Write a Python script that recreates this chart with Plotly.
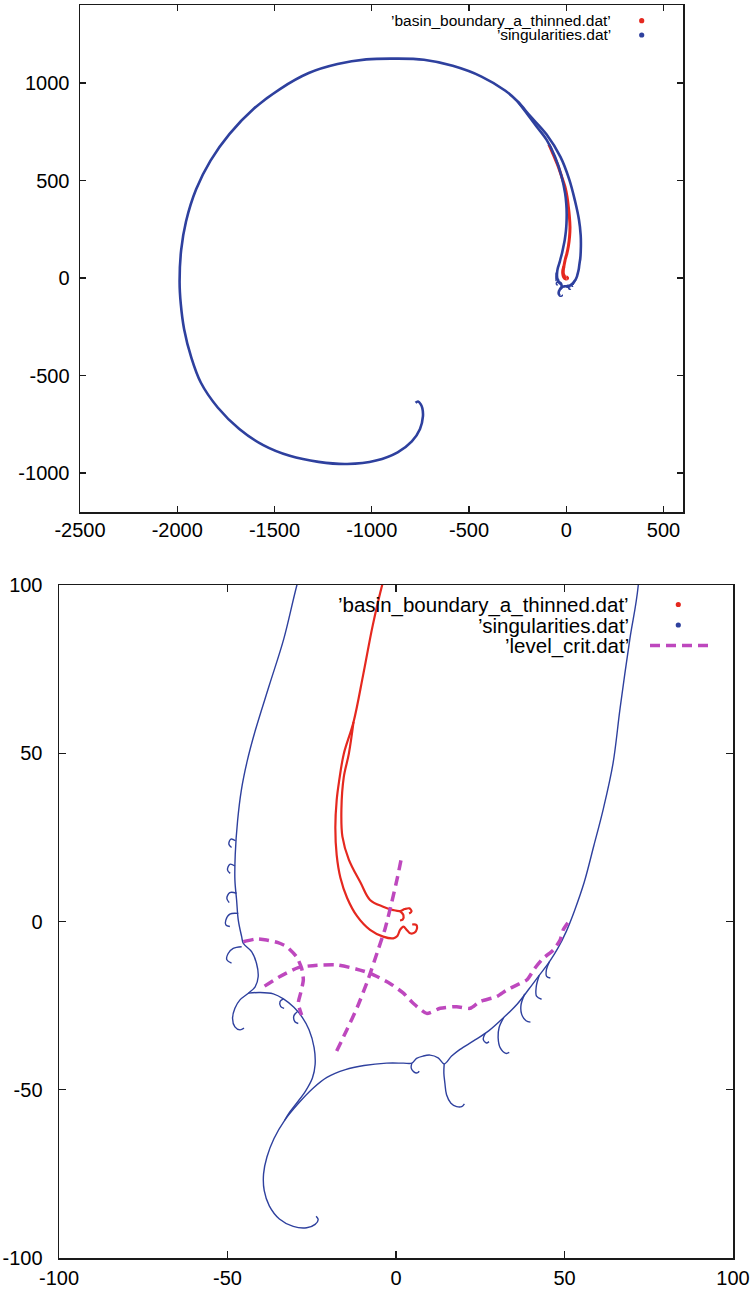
import plotly.graph_objects as go

# ---------------- data: 'singularities.dat' (blue) ----------------
# main path: inner end of the big spiral -> around -> right strand -> lower boundary -> small spiral
sing_main_x = [-775, -762, -748, -740, -737, -752, -794, -867, -978, -1126, -1274, -1422, -1558, -1681,
               -1792, -1879, -1928, -1965, -1982, -1988, -1980, -1955, -1903, -1829, -1731, -1607, -1472,
               -1324, -1176, -1028, -880, -732, -584, -436, -313, -250, -185, -102, -30, 15, 45, 65, 74, 75,
               71.9, 69.4, 66.5, 64.4, 61.5, 58.7, 55.8, 53, 50.5, 48, 45.5, 42.5, 39.5, 36, 32, 27.5, 23,
               19, 16.5, 14.3, 12.5, 10.1, 8, 6.1, 4.7, 2.2, -2.8, -9.5, -15, -20.5, -24.7, -29.2, -33,
               -36.2, -38.3, -39.3, -39.1, -37.6, -34.6, -30.5, -26.5, -24, -23.1, -23.7]
sing_main_y = [-640, -633, -648, -668, -710, -774, -838, -894, -936, -954, -943, -912, -857, -774,
               -664, -536, -407, -261, -132, -22, 143, 290, 455, 602, 739, 868, 969,
               1051, 1097, 1121, 1125, 1119, 1088, 1033, 960, 905, 830, 737, 621, 506, 395, 300, 220, 160,
               100, 84, 63.4, 47, 33.4, 22.5, 11.5, 3.3, -3, -8, -12, -16, -20, -24.5, -28.5, -32.5, -35.5,
               -38, -40, -42.3, -40.5, -39.7, -40, -40.7, -42.1, -42.1, -42.1, -42.8, -44, -46.3, -49.6, -54.3, -59,
               -64.5, -70, -75, -80, -84.5, -88.4, -90.6, -91, -90, -88.6, -87.6]

# inner strand and left strand down to the hook at (-46,-32)
sing_inner_x = [-250, -200, -152, -101, -58, -24, -6, 0, 2, 1, -2, -8, -15, -22, -29.4, -33.3, -37.6,
                -41.8, -44.2, -45.9, -47, -47.7, -47.8, -47.3, -46.8, -45.8, -45.3, -42.8, -41.4, -40.9,
                -41.8, -43.8, -46.3, -47.8, -48.5, -47.8, -46.3, -45.1]
sing_inner_y = [905, 840, 776, 708, 622, 520, 434, 380, 330, 280, 240, 195, 160, 127, 100, 84, 70.2,
                56.6, 47.5, 39, 30, 20, 12.3, 6.4, 0.4, -4.5, -6.5, -9, -12.4, -16.4,
                -19.4, -21.3, -23.3, -25.8, -28.8, -31.3, -32.2, -31.7]

# arch joining the left strand to the lower boundary
sing_arch_x = [-43.8, -40.4, -36.4, -33.4, -30.3, -27.8, -25.8, -24.3, -24, -24.8, -26.8, -29.5, -31.8, -33]
sing_arch_y = [-21.3, -21.1, -21.5, -23, -25.5, -28.5, -32.2, -37.5, -42.5, -46.5, -50.3, -54, -57, -59]

# hooks / curls hanging off the curve
sing_hook15_x = [14.3, 14.2, 14.5, 15, 16.3, 18, 19.5, 20.3]
sing_hook15_y = [-42.3, -45, -48, -51.5, -54, -55, -55, -54.2]
sing_hook5_x = [4.7, 4.5, 5.2, 6.3, 6.9]
sing_hook5_y = [-42.1, -43.5, -44.6, -45, -44.5]
sing_hookr1_x = [45.5, 44.6, 44.7, 45.8]
sing_hookr1_y = [-12, -14.5, -16.3, -16.8]
sing_hookr2_x = [42.5, 41.6, 41.7, 43.2]
sing_hookr2_y = [-16, -19.5, -22.2, -23.1]
sing_hookr3_x = [38.2, 37.1, 37.3, 38.6, 39.9]
sing_hookr3_y = [-21.5, -24.8, -27.6, -29.5, -29.9]
sing_hookr4_x = [32, 30.6, 30.3, 30.9, 32.6, 33.6]
sing_hookr4_y = [-28.5, -31.5, -34.5, -37.5, -39.2, -38.9]
sing_hookr5_x = [26.5, 25.9, 26.8, 27.6]
sing_hookr5_y = [-33.2, -35, -36.1, -35.7]
sing_curl22_x = [-47.6, -49, -49.6, -48.8]
sing_curl22_y = [24, 24.5, 23, 22]
sing_curl15_x = [-47.8, -49.3, -50, -49.2]
sing_curl15_y = [16.5, 17, 15.3, 14.3]
sing_curl8_x = [-47.3, -49.3, -50.2, -49.5]
sing_curl8_y = [8.4, 8.6, 6.9, 5.6]
sing_curl1_x = [-46.8, -49.3, -50.5, -50.5, -49.3]
sing_curl1_y = [2.4, 2.2, 0.4, -1.0, -1.5]
sing_curlm9_x = [-45.8, -48.3, -49.8, -50.2, -48.8]
sing_curlm9_y = [-7.5, -8, -9.5, -11.4, -12.4]
sing_curla1_x = [-33.4, -34.4, -34.2, -33.2]
sing_curla1_y = [-23, -23.8, -25.3, -25.8]
sing_curla2_x = [-29.3, -30.3, -30, -29]
sing_curla2_y = [-26.8, -28, -29.8, -30.3]

# ---------------- data: 'basin_boundary_a_thinned.dat' (red) ----------------
basin_outer_x = [-90, -84, -62, -41, -24, -7, 4, 10.5, 16, 19, 17, 10.5, 3, -4.1, -6.9, -9.8, -12.6,
                 -15.5, -16.9, -17.6, -18, -17.6, -16.5, -14.5, -11.5, -7.7, -3.8, -0.8, 0.4, 1.2, 2.2,
                 3.2, 4.2, 5.5, 6.2, 6, 4.8]
basin_outer_y = [685, 673, 622, 571, 520, 468, 415, 366, 315, 263, 215, 161, 125, 100, 88, 73, 59.3,
                 49.8, 41.6, 36.1, 27.9, 19.7, 13, 7, 1.5, -2.5, -4.5, -5, -4.3, -2.5, -1.5,
                 -2.5, -3.5, -3.3, -2.2, -1, -0.9]
basin_inner_x = [-12.6, -14, -15.5, -16.2, -15.9, -14, -10.5, -7.7, -3.8, -0.8, 1.2, 2.6, 4.0, 4.6, 3.9]
basin_inner_y = [59.3, 49.8, 42.9, 33.4, 25.2, 18.4, 11.5, 6.4, 4.4, 3.4, 3.1, 3.7, 3.9, 3.0, 2.4]
basin_curl_x = [1.2, 2.2, 2.0, 1.2]
basin_curl_y = [3.1, 1.9, 0.6, 0.3]

# ---------------- data: 'level_crit.dat' (magenta dashed) ----------------
level_a_x = [-39, -34.7, -29, -23.3, -17.6, -11.9, -7.7, -1.8, 2.2, 5.1, 9.1, 13.1, 18, 22, 24.9,
             29.9, 32.8, 35.8, 38.8, 41.2, 43.7, 46.7, 48.7, 49.6, 51.6]
level_a_y = [-19.2, -16.5, -13.7, -13, -12.9, -14.1, -15.4, -18.4, -21.3, -24.3, -27.3, -25.8, -25.3,
             -25.8, -23.8, -22.3, -20.4, -18.9, -17.4, -13.9, -10.9, -8.5, -5.5, -2.5, 0.4]
level_b_x = [-45.3, -41.5, -38.4, -35, -32.4, -29.5, -28, -27.5, -28.3, -29, -28]
level_b_y = [-6, -5.2, -5.5, -6.3, -7.5, -10.5, -13.9, -17.4, -21.3, -24.3, -27.8]
level_c_x = [-17.6, -14.5, -11.5, -8.2, -5.5, -3.2, -1.2, 0.3, 1.6]
level_c_y = [-38.5, -32, -25.5, -17, -9, -2, 6, 12.5, 18.8]

# ---------------- tick labels ----------------
top_xticks = [-2500, -2000, -1500, -1000, -500, 0, 500]
top_yticks = [-1000, -500, 0, 500, 1000]
bot_ticks = [-100, -50, 0, 50, 100]

legend_names = ["\u2019basin_boundary_a_thinned.dat\u2019", "\u2019singularities.dat\u2019",
                "\u2019level_crit.dat\u2019"]


def join(*segs):
    xs, ys = [], []
    for sx, sy in segs:
        if xs:
            xs.append(None)
            ys.append(None)
        xs.extend(sx)
        ys.extend(sy)
    return xs, ys


blue_x, blue_y = join((sing_main_x, sing_main_y), (sing_inner_x, sing_inner_y),
                      (sing_arch_x, sing_arch_y), (sing_hook15_x, sing_hook15_y),
                      (sing_hook5_x, sing_hook5_y), (sing_hookr1_x, sing_hookr1_y),
                      (sing_hookr2_x, sing_hookr2_y), (sing_hookr3_x, sing_hookr3_y),
                      (sing_hookr4_x, sing_hookr4_y), (sing_hookr5_x, sing_hookr5_y),
                      (sing_curl22_x, sing_curl22_y), (sing_curl15_x, sing_curl15_y),
                      (sing_curl8_x, sing_curl8_y), (sing_curl1_x, sing_curl1_y),
                      (sing_curlm9_x, sing_curlm9_y), (sing_curla1_x, sing_curla1_y),
                      (sing_curla2_x, sing_curla2_y))
red_x, red_y = join((basin_outer_x, basin_outer_y), (basin_inner_x, basin_inner_y),
                    (basin_curl_x, basin_curl_y))
mag_x, mag_y = join((level_a_x, level_a_y), (level_b_x, level_b_y), (level_c_x, level_c_y))

RED = "#E5281F"
BLUE = "#2E409E"
MAG = "#BE48BE"
W, H = 753, 1292
FONT = "Liberation Sans, Arial, Helvetica, sans-serif"

fig = go.Figure()
spl = dict(shape="spline", smoothing=1.0)
# top panel
fig.add_trace(go.Scatter(x=red_x, y=red_y, mode="lines", line=dict(color=RED, width=3, **spl),
                         xaxis="x", yaxis="y", showlegend=False, hoverinfo="skip"))
fig.add_trace(go.Scatter(x=blue_x, y=blue_y, mode="lines", line=dict(color=BLUE, width=2.6, **spl),
                         xaxis="x", yaxis="y", showlegend=False, hoverinfo="skip"))
# bottom panel
fig.add_trace(go.Scatter(x=red_x, y=red_y, mode="lines", line=dict(color=RED, width=2.2, **spl),
                         xaxis="x2", yaxis="y2", showlegend=False, hoverinfo="skip"))
fig.add_trace(go.Scatter(x=blue_x, y=blue_y, mode="lines", line=dict(color=BLUE, width=1.4, **spl),
                         xaxis="x2", yaxis="y2", showlegend=False, hoverinfo="skip"))
fig.add_trace(go.Scatter(x=mag_x, y=mag_y, mode="lines",
                         line=dict(color=MAG, width=3.5, dash="10px,6px", shape="spline", smoothing=0.6),
                         xaxis="x2", yaxis="y2", showlegend=False, hoverinfo="skip"))


def px(xp):
    return xp / W


def py(yp):
    return 1 - yp / H


def labels(vals):
    return [str(v) for v in vals]  # plain hyphen-minus, as in the original


axis_common = dict(showgrid=False, zeroline=False, showline=True, linecolor="#1a1a1a", linewidth=1.5,
                   mirror="allticks", ticks="inside", tickcolor="#1a1a1a", tickwidth=1.2,
                   automargin=False, tickmode="array",
                   tickfont=dict(family=FONT, size=20, color="black"))

fig.update_layout(
    width=W, height=H, margin=dict(l=0, r=0, t=0, b=0, autoexpand=False),
    paper_bgcolor="white", plot_bgcolor="white", showlegend=False,
    xaxis=dict(axis_common, domain=[px(80), px(683)], range=[-2500, 600], tickvals=top_xticks,
               ticktext=labels(top_xticks), ticklen=6, anchor="y", ticklabelstandoff=-1),
    yaxis=dict(axis_common, domain=[py(512), py(5)], range=[-1200, 1400], tickvals=top_yticks,
               ticktext=labels(top_yticks), ticklen=6, anchor="x", ticklabelstandoff=5),
    xaxis2=dict(axis_common, domain=[px(59), px(733)], range=[-100, 100], tickvals=bot_ticks,
                ticktext=labels(bot_ticks), ticklen=7, anchor="y2", ticklabelstandoff=1),
    yaxis2=dict(axis_common, domain=[py(1258), py(585)], range=[-100, 100], tickvals=bot_ticks,
                ticktext=labels(bot_ticks), ticklen=7, anchor="x2", ticklabelstandoff=11),
)

# gnuplot-style keys: text right-aligned, sample on the right
annotations = []
shapes = []


def key_text(text, xr, yc, size):
    annotations.append(dict(text=text, x=px(xr), y=py(yc), xref="paper", yref="paper",
                            xanchor="right", yanchor="middle", showarrow=False, borderpad=0,
                            font=dict(family=FONT, size=size, color="black")))


def key_dot(xc, yc, r, color):
    shapes.append(dict(type="circle", xref="paper", yref="paper", x0=px(xc - r), x1=px(xc + r),
                       y0=py(yc + r), y1=py(yc - r), fillcolor=color, line=dict(width=0)))


key_text(legend_names[0], 612, 20.7, 15.5)
key_text(legend_names[1], 612, 35, 15.5)
key_dot(641.7, 20.7, 2.6, RED)
key_dot(641.7, 35, 2.6, BLUE)

key_text(legend_names[0], 630, 604.5, 20.5)
key_text(legend_names[1], 630, 625, 20.5)
key_text(legend_names[2], 630, 645.5, 20.5)
key_dot(678.3, 604.5, 2.6, RED)
key_dot(678.3, 625, 2.6, BLUE)
shapes.append(dict(type="line", xref="paper", yref="paper", x0=px(650), x1=px(708), y0=py(645.5),
                   y1=py(645.5), line=dict(color=MAG, width=3.5, dash="10px,6px")))

fig.update_layout(annotations=annotations, shapes=shapes)
# the page's default 8px body margin would shift the whole figure; remove it
fig.write_html("out.html", config={"displayModeBar": False, "staticPlot": True},
               post_script="document.body.style.margin='0';")
